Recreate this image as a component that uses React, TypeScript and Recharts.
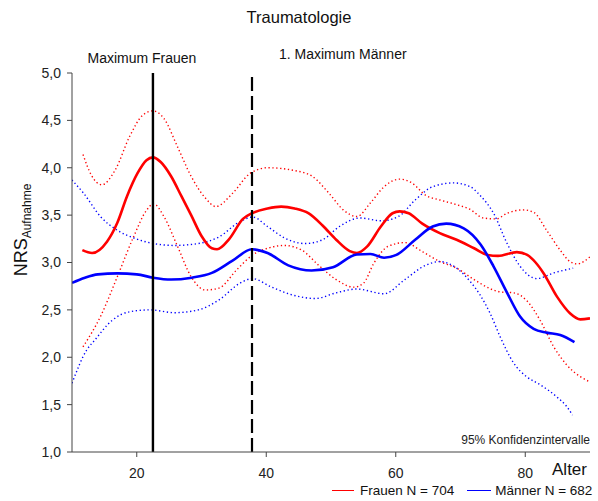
import React from 'react';
import { LineChart, Line, XAxis, YAxis, ReferenceLine, Label } from 'recharts';

const FONT = '"Liberation Sans", Arial, Helvetica, sans-serif';
const ROT = '#ff0000';
const BLAU = '#0000ff';

const ALTER_TICKS = [20, 40, 60, 80];
const NRS_TICKS = [1, 1.5, 2, 2.5, 3, 3.5, 4, 4.5, 5];

const MAX_FRAUEN = 22.5;
const MAX_MAENNER = 37.8;

// Frauen – Mittelwert
const frauenMittelAlter = [11.6, 13.1, 15.4, 17, 18.5, 20.1, 21.5, 22.5, 23.7, 25.3, 26.9, 28.4, 30, 31.6, 32.4, 34.3, 36.4, 37.8, 40.2, 42.3, 44.4, 46.5, 48.7, 50.8, 52.9, 54, 55.6, 57.7, 59.5, 60.6, 62, 64.1, 66.8, 69.4, 72.1, 74.2, 75.8, 78.7, 80.3, 81.6, 82.8, 84.9, 86.9, 88.5, 90];
const frauenMittelWerte = [3.13, 3.1, 3.22, 3.42, 3.7, 3.94, 4.08, 4.11, 4.06, 3.91, 3.7, 3.5, 3.28, 3.15, 3.14, 3.25, 3.46, 3.52, 3.57, 3.59, 3.57, 3.52, 3.39, 3.24, 3.12, 3.1, 3.17, 3.38, 3.52, 3.54, 3.52, 3.41, 3.31, 3.24, 3.15, 3.08, 3.07, 3.11, 3.08, 3.0, 2.89, 2.64, 2.465, 2.4, 2.41];

// Frauen – obere Konfidenzgrenze
const frauenObenAlter = [11.7, 13, 14.6, 16.7, 18.9, 21, 22.5, 24.2, 26.3, 28.4, 30.6, 32.2, 34.8, 37.5, 40.2, 44.4, 47.1, 49.7, 51.9, 54, 56.1, 58.2, 60.6, 62.5, 64.6, 66.8, 69.4, 71.5, 73.5, 75.5, 77.2, 79.7, 81.3, 83.3, 85.4, 86.9, 88, 90];
const frauenObenWerte = [4.14, 3.92, 3.82, 3.98, 4.33, 4.56, 4.6, 4.52, 4.22, 3.91, 3.68, 3.59, 3.73, 3.94, 4.0, 3.97, 3.91, 3.73, 3.555, 3.485, 3.63, 3.8, 3.88, 3.84, 3.71, 3.66, 3.61, 3.56, 3.47, 3.46, 3.52, 3.555, 3.53, 3.34, 3.13, 3.01, 2.985, 3.06];

// Frauen – untere Konfidenzgrenze
const frauenUntenAlter = [11.7, 14.4, 17, 19.5, 21.5, 22.6, 24.2, 26.3, 28.4, 30.6, 32.7, 35.4, 37.9, 40.2, 42.8, 45.5, 48.1, 50.8, 53.5, 55, 56.6, 58.8, 61.4, 64.1, 66.8, 69.4, 72.1, 74.7, 76.1, 78.2, 80.2, 82.3, 84.4, 86.4, 88.5, 90];
const frauenUntenWerte = [2.11, 2.43, 2.85, 3.27, 3.55, 3.62, 3.485, 3.17, 2.85, 2.71, 2.73, 2.92, 3.08, 3.15, 3.18, 3.13, 2.97, 2.82, 2.74, 2.78, 2.99, 3.17, 3.21, 3.115, 3.01, 2.94, 2.82, 2.72, 2.69, 2.68, 2.6, 2.39, 2.11, 1.92, 1.795, 1.74];

// Männer – Mittelwert
const maennerMittelAlter = [10, 12, 14, 17, 20, 22.5, 25.3, 28.5, 31.6, 34.8, 37.8, 40.2, 43.4, 47, 50.3, 54, 56.1, 58.2, 60.1, 63, 65.7, 67.8, 70.5, 73.1, 75.1, 77.2, 79.2, 81.3, 83.3, 85.4, 87.6];
const maennerMittelWerte = [2.785, 2.84, 2.875, 2.885, 2.875, 2.84, 2.82, 2.84, 2.89, 3.02, 3.14, 3.1, 2.97, 2.915, 2.95, 3.085, 3.09, 3.05, 3.08, 3.24, 3.38, 3.41, 3.36, 3.19, 2.96, 2.68, 2.43, 2.3, 2.26, 2.235, 2.16];

// Männer – obere Konfidenzgrenze
const maennerObenAlter = [10, 11.8, 14.4, 17, 19.5, 22.6, 25.8, 29.5, 32.7, 35.9, 37.9, 40.2, 42.8, 46, 48.7, 51.3, 54.5, 57.7, 60.4, 63, 65.7, 68.9, 71.5, 73, 75.1, 77.2, 79.2, 81.8, 84.4, 87.4];
const maennerObenWerte = [3.87, 3.73, 3.485, 3.34, 3.26, 3.2, 3.18, 3.2, 3.27, 3.43, 3.48, 3.38, 3.26, 3.2, 3.24, 3.38, 3.47, 3.44, 3.485, 3.66, 3.8, 3.84, 3.8, 3.71, 3.52, 3.2, 2.96, 2.83, 2.89, 2.94];

// Männer – untere Konfidenzgrenze
const maennerUntenAlter = [10, 12.3, 13.5, 16.2, 18.9, 22.1, 25.8, 29.5, 32.7, 35.9, 37.9, 40.7, 43.9, 47.6, 50.8, 54, 58.2, 61.4, 64.6, 66.8, 69.4, 71.5, 73, 74.6, 76.1, 78.2, 80.2, 82.3, 84.9, 86.4, 87.3];
const maennerUntenWerte = [1.725, 2.08, 2.18, 2.39, 2.48, 2.5, 2.47, 2.5, 2.605, 2.78, 2.83, 2.745, 2.66, 2.62, 2.68, 2.72, 2.67, 2.82, 2.97, 3.01, 2.94, 2.8, 2.66, 2.46, 2.22, 1.94, 1.795, 1.71, 1.58, 1.48, 1.39];

const toPoints = (alter: number[], werte: number[]) =>
  alter.map((a, i) => ({ alter: a, nrs: werte[i] }));

const komma = (v: number) => v.toFixed(1).replace('.', ',');

const DOTTED = '1.3 2.6';

const xAxisTexts = (props: any) => {
  const vb = props.viewBox || { x: 72, y: 452, width: 518, height: 30 };
  const right = vb.x + vb.width;
  return (
    <g fontFamily={FONT}>
      <text x={right} y={vb.y - 8} textAnchor="end" fontSize={12} fill="#222">
        95% Konfidenzintervalle
      </text>
      <text x={right - 3} y={vb.y + 23} textAnchor="end" fontSize={17} fill="#111">
        Alter
      </text>
    </g>
  );
};

const yAxisTitle = () => {
  const x = 27;
  const y = 230;
  return (
    <text
      x={x}
      y={y}
      transform={`rotate(-90, ${x}, ${y})`}
      textAnchor="middle"
      fontFamily={FONT}
      fill="#111"
    >
      <tspan fontSize={18}>NRS</tspan>
      <tspan fontSize={12} dy={4}>Aufnahme</tspan>
    </text>
  );
};

const maxLabel = (text: string, dx: number, dy: number, anchor: string) => (props: any) => {
  const vb = props.viewBox || { x: 0, y: 73 };
  return (
    <text x={vb.x + dx} y={vb.y + dy} textAnchor={anchor} fontFamily={FONT} fontSize={14} fill="#111">
      {text}
    </text>
  );
};

export default function App() {
  return (
    <div style={{ position: 'absolute', left: 0, top: 0, width: 598, height: 501, background: '#fff', fontFamily: FONT }}>
      <div style={{ position: 'absolute', left: 0, width: 598, top: 8, textAlign: 'center', fontSize: 16.5, color: '#111' }}>
        Traumatologie
      </div>
      <LineChart width={598} height={501} margin={{ top: 73, right: 8, bottom: 19, left: 0 }}>
        <XAxis
          type="number"
          dataKey="alter"
          domain={[10, 90]}
          ticks={ALTER_TICKS}
          allowDataOverflow
          height={30}
          stroke="#444"
          tickSize={5}
          tickMargin={11}
          tick={{ fill: '#222', fontSize: 14, fontFamily: FONT }}
        >
          <Label content={xAxisTexts} />
        </XAxis>
        <YAxis
          type="number"
          domain={[1, 5]}
          ticks={NRS_TICKS}
          width={72}
          stroke="#444"
          tickSize={5}
          tickMargin={6}
          tickFormatter={komma}
          tick={{ fill: '#222', fontSize: 14, fontFamily: FONT }}
        >
          <Label content={yAxisTitle} />
        </YAxis>

        <Line data={toPoints(frauenObenAlter, frauenObenWerte)} dataKey="nrs" type="monotone" stroke={ROT} strokeWidth={1.4} strokeDasharray={DOTTED} dot={false} activeDot={false} isAnimationActive={false} />
        <Line data={toPoints(frauenUntenAlter, frauenUntenWerte)} dataKey="nrs" type="monotone" stroke={ROT} strokeWidth={1.4} strokeDasharray={DOTTED} dot={false} activeDot={false} isAnimationActive={false} />
        <Line data={toPoints(maennerObenAlter, maennerObenWerte)} dataKey="nrs" type="monotone" stroke={BLAU} strokeWidth={1.4} strokeDasharray={DOTTED} dot={false} activeDot={false} isAnimationActive={false} />
        <Line data={toPoints(maennerUntenAlter, maennerUntenWerte)} dataKey="nrs" type="monotone" stroke={BLAU} strokeWidth={1.4} strokeDasharray={DOTTED} dot={false} activeDot={false} isAnimationActive={false} />
        <Line data={toPoints(frauenMittelAlter, frauenMittelWerte)} dataKey="nrs" type="monotone" stroke={ROT} strokeWidth={2.6} dot={false} activeDot={false} isAnimationActive={false} />
        <Line data={toPoints(maennerMittelAlter, maennerMittelWerte)} dataKey="nrs" type="monotone" stroke={BLAU} strokeWidth={2.6} dot={false} activeDot={false} isAnimationActive={false} />

        <ReferenceLine x={MAX_FRAUEN} stroke="#000" strokeWidth={2.4} label={maxLabel('Maximum Frauen', -11, -10, 'middle')} />
        <ReferenceLine x={MAX_MAENNER} stroke="#000" strokeWidth={2.2} strokeDasharray="14 5" label={maxLabel('1. Maximum Männer', 27, -14, 'start')} />
      </LineChart>

      {/* Legende */}
      <div style={{ position: 'absolute', top: 483, left: 332, fontSize: 13.5, color: '#111', display: 'flex', alignItems: 'center', whiteSpace: 'nowrap' }}>
        <span style={{ display: 'inline-block', width: 22, height: 1, background: ROT, marginRight: 6 }} />
        <span>Frauen N = 704</span>
        <span style={{ display: 'inline-block', width: 24, height: 1, background: BLAU, marginLeft: 13, marginRight: 4 }} />
        <span>Männer N = 682</span>
      </div>
    </div>
  );
}
